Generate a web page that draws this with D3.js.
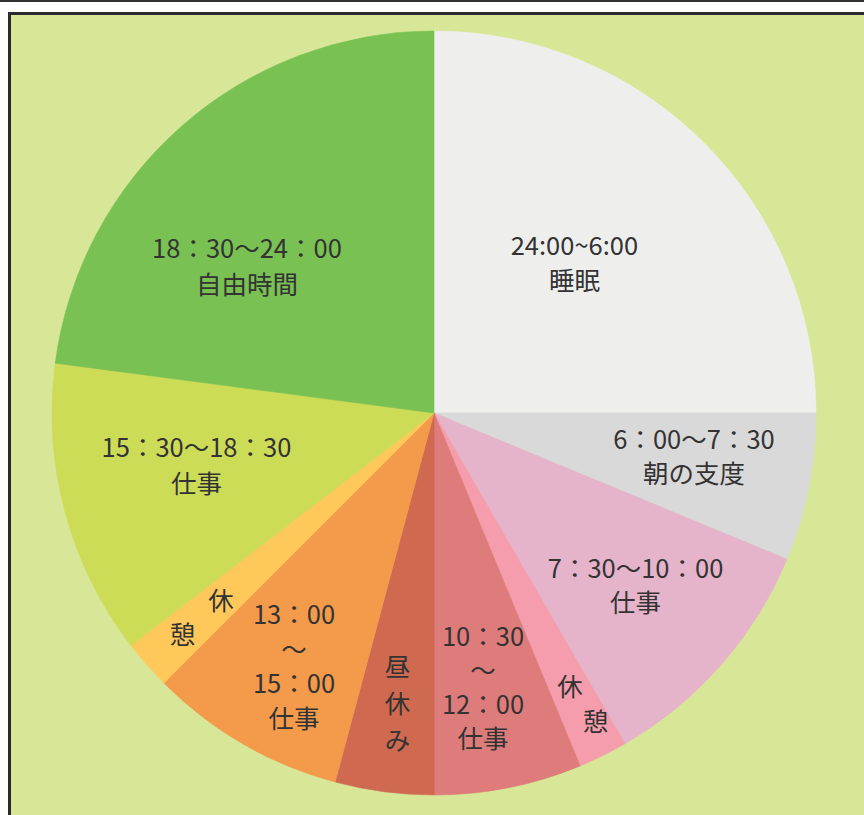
<!DOCTYPE html>
<html>
<head>
<meta charset="utf-8">
<script src="https://cdn.jsdelivr.net/npm/d3@7"></script>
<style>
  html, body { margin: 0; padding: 0; background: #ffffff; }
  svg { display: block; }
</style>
</head>
<body>
<div id="chart"></div>
<script>
// ---- data (hours of the day, clockwise from 24:00 at top) ----
const slotNames = ["睡眠", "朝の支度", "仕事", "休憩", "仕事", "昼休み", "仕事", "休憩", "仕事", "自由時間"];
const slotHours = [6, 1.5, 2.5, 0.5, 1.5, 1, 2, 0.5, 3, 5.5];
const slotLabels = [
  ["24:00~6:00", "睡眠"],
  ["6：00～7：30", "朝の支度"],
  ["7：30～10：00", "仕事"],
  ["休", "憩"],
  ["10：30", "～", "12：00", "仕事"],
  ["昼", "休", "み"],
  ["13：00", "～", "15：00", "仕事"],
  ["休", "憩"],
  ["15：30～18：30", "仕事"],
  ["18：30～24：00", "自由時間"]
];
const slotColors = ["#eeefed", "#d9d9d9", "#e6b4ca", "#f59dac", "#de7b7b", "#cf6a51", "#f39a4b", "#fec85a", "#cddc57", "#79c152"];

// ---- layout (label placement: radius, angle shift from slice middle in degrees, line step) ----
const labelLayout = [
  { r: 205.5, shift: -1.9,  step: [0, 34.5] },
  { r: 263.7, shift: -1.65, step: [0, 34] },
  { r: 265.4, shift: -0.65, step: [0, 34] },
  { r: 327.3, shift: -0.8,  step: [25.5, 35] },
  { r: 279.3, shift: 1.15,  step: [0, 34] },
  { r: 293.3, shift: -0.35, step: [0, 37] },
  { r: 289.7, shift: -1.1,  step: [0, 34.5] },
  { r: 309.4, shift: -0.1,  step: [-38.7, 34.7] },
  { r: 243.3, shift: 2.5,   step: [0, 35.5] },
  { r: 237.7, shift: -10.65, step: [0, 35.5] }
];

const W = 864, H = 815;
const cx = 434, cy = 413, R = 382;
const fontSize = 25.5;

const svg = d3.select("#chart").append("svg")
  .attr("width", W).attr("height", H);

// top rule
svg.append("rect").attr("x", 0).attr("y", 0).attr("width", W).attr("height", 2).attr("fill", "#333333");
// framed panel
svg.append("rect")
  .attr("x", 9.5).attr("y", 13.5)
  .attr("width", W + 20).attr("height", H + 20)
  .attr("fill", "#d8e697")
  .attr("stroke", "#2b2b2f").attr("stroke-width", 3);

const pie = d3.pie().sort(null).value(d => d)
  .startAngle(0).endAngle(2 * Math.PI);
const arcs = pie(slotHours);
const arc = d3.arc().innerRadius(0).outerRadius(R);

const g = svg.append("g").attr("transform", `translate(${cx},${cy})`);

g.selectAll("path.slice")
  .data(arcs)
  .join("path")
  .attr("class", "slice")
  .attr("d", arc)
  .attr("fill", (d, i) => slotColors[i])
  .attr("stroke", (d, i) => slotColors[i])
  .attr("stroke-width", 0.6);

const labels = g.selectAll("g.label")
  .data(arcs)
  .join("g")
  .attr("class", "label")
  .attr("transform", (d, i) => {
    const L = labelLayout[i];
    const a = (d.startAngle + d.endAngle) / 2 + L.shift * Math.PI / 180;
    const x = L.r * Math.sin(a), y = -L.r * Math.cos(a);
    return `translate(${x},${y})`;
  });

labels.each(function (d, i) {
  const lines = slotLabels[i];
  const st = labelLayout[i].step;
  const n = lines.length;
  d3.select(this).selectAll("text")
    .data(lines)
    .join("text")
    .attr("x", (t, k) => (k - (n - 1) / 2) * st[0])
    .attr("y", (t, k) => (k - (n - 1) / 2) * st[1])
    .attr("dy", "0.37em")
    .attr("text-anchor", "middle")
    .attr("font-family", "'Noto Sans CJK JP', 'Noto Sans', sans-serif")
    .attr("font-size", fontSize)
    .attr("fill", "#333333")
    .text(t => t);
});
</script>
</body>
</html>
